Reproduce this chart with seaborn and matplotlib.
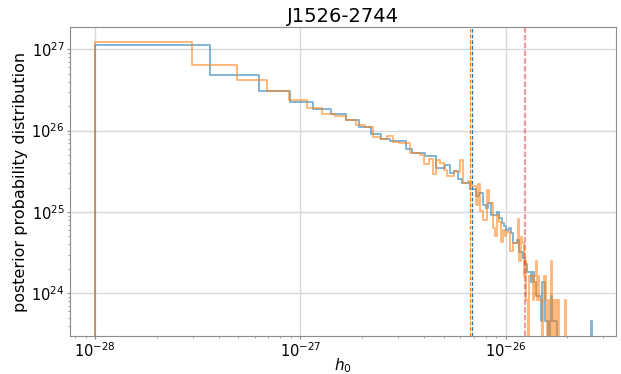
import numpy as np
import matplotlib
matplotlib.use("Agg")
import matplotlib.pyplot as plt
from matplotlib.ticker import NullFormatter
import seaborn as sns

# ---- text ----
title = "J1526-2744"
x_label = "$h_0$"
y_label = "posterior probability distribution"

# ---- histogram binning (linear bins in h0) ----
bin_start = 1e-28
n_bins = 100
blue_bin_width = 2.63e-28
orange_bin_width = 1.96e-28

# ---- posterior densities per bin ----
blue_density = [
    1.14e27, 4.81e26, 3.06e26, 2.26e26, 1.83e26, 1.60e26, 1.35e26, 1.10e26, 9.03e25, 7.91e25,
    7.55e25, 7.55e25, 5.92e25, 5.29e25, 5.29e25, 4.81e25, 4.90e25, 3.47e25, 3.47e25, 3.80e25,
    3.01e25, 3.15e25, 2.54e25, 2.27e25, 2.27e25, 1.92e25, 1.92e25, 1.59e25, 1.71e25, 1.23e25,
    1.12e25, 1.29e25, 9.29e24, 9.29e24, 1.01e25, 8.54e24, 7.42e24, 6.68e24, 6.09e24, 6.44e24,
    5.51e24, 4.13e24, 4.13e24, 4.59e24, 3.21e24, 3.21e24, 2.75e24, 2.30e24, 1.84e24, 1.84e24,
    1.38e24, 1.84e24, 1.38e24, 9.18e23, 9.18e23, 9.18e23, 4.59e23, 1.38e24, 1.38e24, 4.59e23,
    4.59e23, 0.0, 4.59e23, 9.18e23, 4.59e23, 4.59e23, 4.59e23, 0.0, 0.0, 0.0,
    0.0, 0.0, 0.0, 0.0, 0.0, 0.0, 0.0, 0.0, 0.0, 0.0,
    0.0, 0.0, 0.0, 0.0, 0.0, 0.0, 0.0, 0.0, 0.0, 0.0,
    0.0, 0.0, 0.0, 0.0, 0.0, 0.0, 0.0, 0.0, 0.0, 4.59e23,
]
orange_density = [
    1.23e27, 6.37e26, 4.14e26, 3.06e26, 2.36e26, 1.91e26, 1.60e26, 1.51e26, 1.35e26, 1.17e26,
    1.10e26, 8.45e25, 7.91e25, 8.69e25, 7.21e25, 7.13e25, 7.13e25, 5.29e25, 5.38e25, 5.04e25,
    3.91e25, 4.50e25, 2.93e25, 4.38e25, 4.02e25, 3.24e25, 2.79e25, 2.79e25, 3.15e25, 3.06e25,
    4.38e25, 2.27e25, 2.27e25, 2.38e25, 2.06e25, 2.06e25, 1.23e25, 2.18e25, 1.02e25, 8.07e24,
    8.07e24, 1.88e25, 1.30e25, 1.30e25, 6.39e24, 5.00e24, 9.29e24, 7.63e24, 4.22e24, 6.09e24,
    5.04e24, 5.75e24, 5.75e24, 3.29e24, 3.29e24, 4.12e24, 4.12e24, 4.12e24, 8.23e24, 2.47e24,
    4.94e24, 4.12e24, 1.65e24, 2.47e24, 8.23e23, 0.0, 1.65e24, 1.65e24, 1.65e24, 8.23e23,
    1.65e24, 2.47e24, 8.23e23, 1.65e24, 8.23e23, 8.23e23, 0.0, 8.23e23, 1.65e24, 1.65e24,
    8.23e23, 0.0, 8.23e23, 0.0, 2.47e24, 8.23e23, 0.0, 8.23e23, 0.0, 8.23e23,
    0.0, 8.23e23, 0.0, 0.0, 0.0, 0.0, 0.0, 0.0, 0.0, 8.23e23,
]

# ---- upper limits (vertical lines) ----
blue_limit = 6.90e-27
orange_limit = 6.75e-27
red_limit = 1.243e-26

# ---- axis ranges ----
x_range = (7.55e-29, 3.44e-26)
y_range = (3.02e23, 1.86e27)

plt.rcParams["font.family"] = ["DejaVu Sans"]

fig = plt.figure(figsize=(6.21, 3.74), dpi=100)
ax = fig.add_axes([0.1127, 0.1024, 0.8787, 0.8246])


def draw_hist(width, density, color):
    inner = bin_start + width * np.arange(n_bins + 1)
    # empty padding bin on each side so the outline drops to the baseline
    edges = np.concatenate([[bin_start * 0.5], inner, [inner[-1] + width]])
    heights = np.concatenate([[0.0], np.asarray(density, dtype=float), [0.0]])
    centers = 0.5 * (edges[:-1] + edges[1:])
    sns.histplot(x=centers, weights=heights, bins=edges.tolist(), element="step",
                 fill=False, color=color, alpha=0.55, linewidth=1.4, ax=ax)


draw_hist(blue_bin_width, blue_density, "#1f77b4")
draw_hist(orange_bin_width, orange_density, "#ff7f0e")

ax.axvline(orange_limit, color="#ff7f0e", ls=(0, (3, 1.5)), lw=0.9)
ax.axvline(blue_limit, color="#1f77b4", ls=(0, (3, 1.5)), lw=0.9)
ax.axvline(red_limit, color="#d62728", ls=(0, (2.5, 1)), lw=1.6, alpha=0.45)

ax.set_xscale("log")
ax.set_yscale("log")
ax.set_xlim(*x_range)
ax.set_ylim(*y_range)
ax.xaxis.set_minor_formatter(NullFormatter())
ax.yaxis.set_minor_formatter(NullFormatter())

ax.grid(True, which="major", color="#d8d8d8", lw=1.0)
ax.set_axisbelow(True)
for s in ax.spines.values():
    s.set_color("#8c8c8c")
ax.tick_params(which="both", colors="#8c8c8c", labelcolor="black",
               labelsize=10.5, pad=1.5)
ax.tick_params(which="major", length=2.5)
ax.tick_params(which="minor", length=1.5)

ax.set_title(title, fontsize=14, pad=4)
ax.set_xlabel(x_label, fontsize=11)
ax.set_ylabel(y_label, fontsize=11.5)
ax.xaxis.set_label_coords(0.5, -0.066)
ax.yaxis.set_label_coords(-0.077, 0.5)

fig.savefig("out.png", dpi=100)
